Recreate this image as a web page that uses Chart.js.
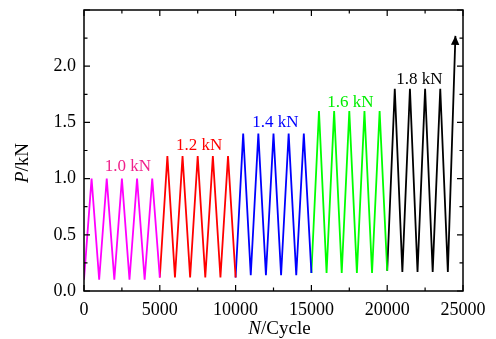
<!DOCTYPE html>
<html>
<head>
<meta charset="utf-8">
<script src="https://cdn.jsdelivr.net/npm/chart.js@4"></script>
<style>
html,body{margin:0;padding:0;background:#fff;}
#wrap{width:496px;height:339px;position:relative;}
</style>
</head>
<body>
<div id="wrap"><canvas id="c" width="496" height="339"></canvas></div>
<script>
// ---- data (cycles N, load P in kN) ----
const magentaN = [0,500,1000,1500,2000,2500,3000,3500,4000,4500,5000];
const magentaP = [0.10,1.00,0.10,1.00,0.10,1.00,0.10,1.00,0.10,1.00,0.12];
const redN = [5000,5500,6000,6500,7000,7500,8000,8500,9000,9500,10000];
const redP = [0.12,1.20,0.12,1.20,0.12,1.20,0.12,1.20,0.12,1.20,0.12];
const blueN = [10000,10500,11000,11500,12000,12500,13000,13500,14000,14500,15000];
const blueP = [0.12,1.40,0.14,1.40,0.14,1.40,0.14,1.40,0.14,1.40,0.16];
const greenN = [15000,15500,16000,16500,17000,17500,18000,18500,19000,19500,20000];
const greenP = [0.16,1.60,0.16,1.60,0.16,1.60,0.16,1.60,0.16,1.60,0.18];
const blackN = [20000,20500,21000,21500,22000,22500,23000,23500,24000,24500];
const blackP = [0.18,1.80,0.17,1.80,0.17,1.80,0.17,1.80,0.17,2.27];
const levelLabels = ['1.0 kN','1.2 kN','1.4 kN','1.6 kN','1.8 kN'];
const xTicks = [0,5000,10000,15000,20000,25000];
const yTicks = [0.0,0.5,1.0,1.5,2.0];

function pts(N,P){return N.map((n,i)=>({x:n,y:P[i]}));}
const series = [
  {N:magentaN,P:magentaP,color:'#ff00ff'},
  {N:redN,P:redP,color:'#ff0000'},
  {N:blueN,P:blueP,color:'#0000ff'},
  {N:greenN,P:greenP,color:'#00ff00'},
  {N:blackN,P:blackP,color:'#000000'}
];
// label anchors in data units (placement only)
const labelAnchors = [
  {x:2900,y:1.11,color:'#f0208c'},
  {x:7600,y:1.29,color:'#ff0000'},
  {x:12620,y:1.50,color:'#0000ff'},
  {x:17570,y:1.68,color:'#00ee00'},
  {x:22130,y:1.88,color:'#000000'}
];

const FONT = '"Liberation Serif","Times New Roman",serif';

const framePlugin = {
  id:'frame',
  afterDatasetsDraw(chart){
    const {ctx, chartArea:a, scales:{x,y}} = chart;
    ctx.save();
    // arrow head on black series
    const meta = chart.getDatasetMeta(4);
    const n = meta.data.length;
    const p1 = meta.data[n-2], p2 = meta.data[n-1];
    const ang = Math.atan2(p2.y-p1.y, p2.x-p1.x);
    const L = 9, W = 4.2;
    ctx.fillStyle = '#000';
    ctx.beginPath();
    ctx.moveTo(p2.x, p2.y);
    ctx.lineTo(p2.x - L*Math.cos(ang) + W*Math.sin(ang), p2.y - L*Math.sin(ang) - W*Math.cos(ang));
    ctx.lineTo(p2.x - L*Math.cos(ang) - W*Math.sin(ang), p2.y - L*Math.sin(ang) + W*Math.cos(ang));
    ctx.closePath();
    ctx.fill();

    // labels
    ctx.font = '17px ' + FONT;
    ctx.textAlign = 'center';
    ctx.textBaseline = 'middle';
    labelAnchors.forEach((l,i)=>{
      ctx.fillStyle = l.color;
      ctx.fillText(levelLabels[i], x.getPixelForValue(l.x), y.getPixelForValue(l.y));
    });

    // frame
    ctx.strokeStyle = '#000';
    ctx.lineWidth = 1.5;
    ctx.strokeRect(a.left, a.top, a.right-a.left, a.bottom-a.top);
    ctx.lineWidth = 1.2;
    ctx.beginPath();
    for(let v=0; v<=25000; v+=2500){
      const px = x.getPixelForValue(v);
      const len = (v%5000===0)?6:3.5;
      ctx.moveTo(px,a.bottom); ctx.lineTo(px,a.bottom-len);
      ctx.moveTo(px,a.top); ctx.lineTo(px,a.top+len);
    }
    for(let k=0; k<=10; k++){
      const v = k*0.25;
      const py = y.getPixelForValue(v);
      const len = (k%2===0)?6:3.5;
      ctx.moveTo(a.left,py); ctx.lineTo(a.left+len,py);
      ctx.moveTo(a.right,py); ctx.lineTo(a.right-len,py);
    }
    ctx.stroke();

    // axis titles
    ctx.fillStyle = '#000';
    ctx.textBaseline = 'alphabetic';
    ctx.textAlign = 'left';
    const it = 'italic 19px ' + FONT, rm = '19px ' + FONT;
    ctx.font = it; const wN = ctx.measureText('N').width;
    ctx.font = rm; const wR = ctx.measureText('/Cycle').width;
    let sx = (a.left+a.right)/2 + 6 - (wN+wR)/2;
    const by = 334;
    ctx.font = it; ctx.fillText('N', sx, by);
    ctx.font = rm; ctx.fillText('/Cycle', sx+wN, by);

    ctx.save();
    ctx.translate(28, 163);
    ctx.rotate(-Math.PI/2);
    ctx.font = it; const wP = ctx.measureText('P').width;
    ctx.font = rm; const wK = ctx.measureText('/kN').width;
    const s2 = -(wP+wK)/2;
    ctx.font = it; ctx.fillText('P', s2, 0);
    ctx.font = rm; ctx.fillText('/kN', s2+wP, 0);
    ctx.restore();
    ctx.restore();
  }
};

new Chart(document.getElementById('c'), {
  type:'line',
  data:{
    datasets: series.map(s=>({
      data: pts(s.N,s.P),
      borderColor: s.color,
      backgroundColor: s.color,
      borderWidth: 1.8,
      pointRadius: 0,
      tension: 0,
      fill: false
    }))
  },
  options:{
    responsive:false,
    animation:false,
    layout:{padding:{top:0,right:33,left:0,bottom:0}},
    plugins:{legend:{display:false},tooltip:{enabled:false}},
    scales:{
      x:{
        type:'linear', min:0, max:25000,
        afterBuildTicks(s){ s.ticks = xTicks.map(v=>({value:v})); },
        afterFit(s){ s.height = 48; },
        grid:{display:false, drawTicks:false},
        border:{display:false},
        ticks:{ color:'#000', font:{family:FONT,size:18}, padding:8, maxRotation:0,
          callback:(v)=>String(v) }
      },
      y:{
        type:'linear', min:0, max:2.5,
        afterBuildTicks(s){ s.ticks = yTicks.map(v=>({value:v})); },
        afterFit(s){ s.width = 84; s.paddingTop = 10; },
        grid:{display:false, drawTicks:false},
        border:{display:false},
        ticks:{ color:'#000', font:{family:FONT,size:18}, padding:8,
          callback:(v)=>Number(v).toFixed(1) }
      }
    }
  },
  plugins:[framePlugin]
});
</script>
</body>
</html>
